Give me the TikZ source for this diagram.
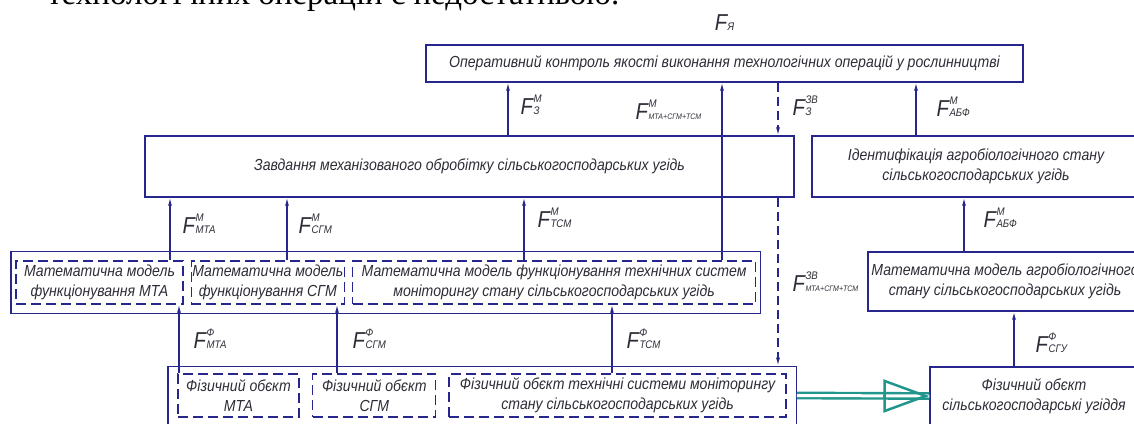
\documentclass[tikz,border=0pt]{standalone}
\usepackage{fontspec}
\setmainfont{Liberation Sans}[FakeStretch=0.88]
\newfontfamily\bodyserif{Liberation Serif}
\usetikzlibrary{arrows.meta,positioning,fit}

\definecolor{navyline}{RGB}{38,38,140}
\definecolor{inkgray}{RGB}{45,45,55}
\definecolor{tealarrow}{RGB}{32,150,140}

% signal label: F with stacked upper and lower index
\newcommand{\sig}[2]{F\kern0.5pt\rlap{\raisebox{12pt}{\fontsize{11}{11}\selectfont #1}}{\fontsize{11}{11}\selectfont #2}}
\newcommand{\sigw}[2]{F\kern0.5pt\rlap{\raisebox{12pt}{\fontsize{11}{11}\selectfont #1}}{\fontsize{8}{8}\selectfont #2}}

\begin{document}
\begin{tikzpicture}[
  x=1pt,y=-1pt,
  font=\itshape\fontsize{16}{20}\selectfont,
  text=inkgray,
  line width=1.3pt,
  >={Latex[length=8pt,width=4pt]},
  box/.style={draw=navyline,inner sep=1pt,align=center},
  modelbox/.style={draw=navyline,dash pattern=on 10pt off 5pt,inner sep=1pt,align=center,minimum height=43pt},
  shell/.style={draw=navyline,inner sep=0pt},
  sigflow/.style={->,draw=navyline},
  backflow/.style={->,draw=navyline,dash pattern=on 9pt off 5pt},
  siglbl/.style={font=\itshape\fontsize{23}{24}\selectfont,inner sep=0pt},
  transfer/.style={draw=tealarrow,line width=2.4pt,double=white,double distance=3pt},
  transfertip/.style={draw=tealarrow,line width=2.5pt,-{Triangle[open,length=46pt,width=33pt]}}
]
\useasboundingbox (0,0) rectangle (1134,423);

% ===== Text line above =====
\node[anchor=base east,font=\bodyserif\fontsize{33}{35}\selectfont,text=black,inner sep=0pt] (intro) at (620,5) {технологічних операцій є недостатньою.};

% ===== Level 1 =====
\node[box,minimum width=597pt,minimum height=37pt] (ctrl) at (724.5,63.5) {Оперативний контроль якості виконання технологічних операцій у рослинництві};
\node[siglbl,above=13pt of ctrl] (fya) {\sig{}{Я}};

% ===== Level 2 =====
\node[box,minimum width=649pt,minimum height=61pt] (task) at (469.5,166.5) {Завдання механізованого обробітку сільськогосподарських угідь};
\node[box,minimum width=328pt,minimum height=61pt] (ident) at (976,166.5) {Ідентифікація агробіологічного стану\\сільськогосподарських угідь};

% ===== Level 3: models =====
\node[modelbox,minimum width=167pt] (mMTA) at (99.5,282.5) {Математична модель\\функціонування МТА};
\node[modelbox,minimum width=153pt,right=7pt of mMTA] (mSGM) {Математична модель\\функціонування СГМ};
\node[modelbox,minimum width=403pt,right=7pt of mSGM] (mTSM) {Математична модель функціонування технічних систем\\моніторингу стану сільськогосподарських угідь};
\node[shell,fit=(mMTA)(mSGM)(mTSM),inner xsep=4.5pt,inner ysep=9pt] (models) {};
\node[box,minimum width=274pt,minimum height=59pt] (agromod) at (1005,281.5) {Математична модель агробіологічного\\стану сільськогосподарських угідь};

% ===== Level 4: physical objects =====
\node[modelbox,minimum width=121pt] (pMTA) at (238.5,395.5) {Фізичний обєкт\\МТА};
\node[modelbox,minimum width=123pt,right=12.5pt of pMTA] (pSGM) {Фізичний обєкт\\СГМ};
\node[modelbox,minimum width=337pt,right=12pt of pSGM] (pTSM) {Фізичний обєкт технічні системи моніторингу\\стану сільськогосподарських угідь};
\node[shell,fit=(pMTA)(pSGM)(pTSM),inner xsep=9.5pt,inner ysep=7pt] (phys) {};
\node[box,minimum width=208pt,minimum height=58pt] (field) at (1034,396) {Фізичний обєкт\\сільськогосподарські угіддя};

% ===== Link positions =====
\coordinate (xZ) at (508,0);
\coordinate (xSum) at (722,0);
\coordinate (xBack) at (778,0);
\coordinate (xAB) at (916,0);
\coordinate (xM1) at (170,0);
\coordinate (xM2) at (287,0);
\coordinate (xM3) at (524,0);
\coordinate (xAB2) at (964,0);
\coordinate (xF1) at (179,0);
\coordinate (xF2) at (337,0);
\coordinate (xF3) at (612,0);
\coordinate (xFU) at (1014,0);

% ===== Level 2 -> 1 =====
\draw[sigflow] (task.north -| xZ) -- node[siglbl,anchor=west,xshift=12pt,yshift=4pt]{\sig{М}{З}} (ctrl.south -| xZ);
\draw[sigflow] (mTSM.north -| xSum) -- node[siglbl,pos=0.85,anchor=east,xshift=-20pt]{\sigw{М}{МТА+СГМ+ТСМ}} (ctrl.south -| xSum);
\draw[backflow] (ctrl.south -| xBack) -- node[siglbl,anchor=west,xshift=14pt,yshift=3pt]{\sig{ЗВ}{З}} (task.north -| xBack);
\draw[sigflow] (ident.north -| xAB) -- node[siglbl,anchor=west,xshift=20pt,yshift=2pt]{\sig{М}{АБФ}} (ctrl.south -| xAB);

% ===== Level 3 -> 2 =====
\draw[sigflow] (mMTA.north -| xM1) -- node[siglbl,anchor=west,xshift=12pt,yshift=5pt]{\sig{М}{МТА}} (task.south -| xM1);
\draw[sigflow] (mSGM.north -| xM2) -- node[siglbl,anchor=west,xshift=11pt,yshift=5pt]{\sig{М}{СГМ}} (task.south -| xM2);
\draw[sigflow] (mTSM.north -| xM3) -- node[siglbl,anchor=west,xshift=13pt,yshift=11pt]{\sig{М}{ТСМ}} (task.south -| xM3);
\draw[sigflow] (agromod.north -| xAB2) -- node[siglbl,anchor=west,xshift=19pt,yshift=7pt]{\sig{М}{АБФ}} (ident.south -| xAB2);
\draw[backflow] (task.south -| xBack) -- node[siglbl,anchor=west,xshift=14pt]{\sigw{ЗВ}{МТА+СГМ+ТСМ}} (phys.north -| xBack);

% ===== Level 4 -> 3 =====
\draw[sigflow] (pMTA.north -| xF1) -- node[siglbl,anchor=west,xshift=14pt]{\sig{Ф}{МТА}} (mMTA.south -| xF1);
\draw[sigflow] (pSGM.north -| xF2) -- node[siglbl,anchor=west,xshift=15pt]{\sig{Ф}{СГМ}} (mSGM.south -| xF2);
\draw[sigflow] (pTSM.north -| xF3) -- node[siglbl,anchor=west,xshift=14pt]{\sig{Ф}{ТСМ}} (mTSM.south -| xF3);
\draw[sigflow] (field.north -| xFU) -- node[siglbl,anchor=west,xshift=21pt,yshift=-4pt]{\sig{Ф}{СГУ}} (agromod.south -| xFU);

% ===== Transfer arrow =====
\draw[transfer] (phys.east) -- (field.west);
\draw[transfertip] ([xshift=-46pt]field.west) -- (field.west);

\end{tikzpicture}
\end{document}
